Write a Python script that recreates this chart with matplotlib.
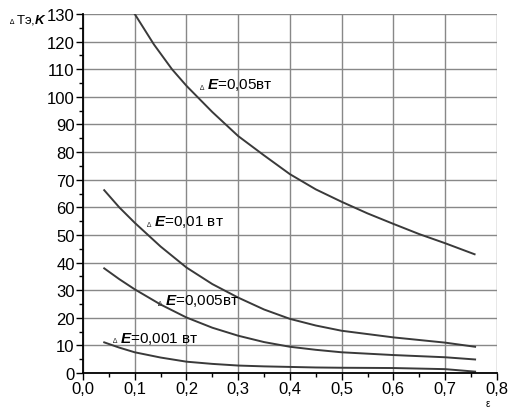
import matplotlib
matplotlib.use("Agg")
import matplotlib.pyplot as plt
import numpy as np

plt.rcParams['font.family'] = ['Liberation Sans', 'DejaVu Sans']
plt.rcParams['mathtext.fontset'] = 'custom'
plt.rcParams['mathtext.bf'] = 'Liberation Sans:italic:bold'
plt.rcParams['mathtext.rm'] = 'Liberation Sans'

# Data
eps_05 = [0.1, 0.137, 0.172, 0.2, 0.25, 0.3, 0.35, 0.4, 0.45, 0.5, 0.55, 0.6, 0.65, 0.7, 0.757]
dt_05 = [130, 119, 110, 104, 94.5, 85.8, 78.8, 72, 66.5, 62, 57.8, 54, 50.3, 47, 43]

eps = [0.041, 0.07, 0.1, 0.15, 0.2, 0.25, 0.3, 0.35, 0.4, 0.45, 0.5, 0.6, 0.7, 0.758]
dt_01 = [66.2, 60.0, 54.4, 45.8, 38.2, 32.2, 27.3, 23.0, 19.6, 17.2, 15.3, 12.9, 11.0, 9.5]
dt_005 = [37.9, 34.0, 30.3, 24.8, 20.1, 16.4, 13.5, 11.2, 9.5, 8.4, 7.5, 6.5, 5.7, 4.9]
dt_001 = [11.1, 9.2, 7.5, 5.6, 4.1, 3.3, 2.7, 2.4, 2.2, 2.0, 1.9, 1.8, 1.4, 0.5]

labels = ["=0,05вт", "=0,01 вт", "=0,005вт", "=0,001 вт"]
label_pos = [(0.226, 104.5), (0.124, 55), (0.145, 26.5), (0.058, 12.8)]

xticks = np.arange(0, 0.81, 0.1)
xtick_labels = ["0,0", "0,1", "0,2", "0,3", "0,4", "0,5", "0,6", "0,7", "0,8"]
yticks = np.arange(0, 131, 10)

fig = plt.figure(figsize=(5.08, 4.10), dpi=100)
ax = fig.add_axes([0.1634, 0.0878, 0.8146, 0.8756])

line_kw = dict(color='#3a3a3a', lw=1.4)
ax.plot(eps_05, dt_05, **line_kw)
ax.plot(eps, dt_01, **line_kw)
ax.plot(eps, dt_005, **line_kw)
ax.plot(eps, dt_001, **line_kw)

for txt, (x, y) in zip(labels, label_pos):
    ax.text(x, y - 1.2, "\u2206", fontsize=5, va='center', ha='left', color='#333333')
    ax.annotate("$\\mathbf{E}$" + txt, (x, y), xytext=(5, 0), textcoords='offset points',
                fontsize=11, va='center', ha='left')

ax.set_xlim(0, 0.8)
ax.set_ylim(0, 130)
ax.set_xticks(xticks)
ax.set_xticklabels(xtick_labels)
ax.set_yticks(yticks)
ax.set_xticks(np.arange(0.05, 0.8, 0.1), minor=True)
ax.set_yticks(np.arange(5, 130, 10), minor=True)
ax.tick_params(which='major', direction='out', length=5, width=1, labelsize=12, pad=1)
ax.tick_params(which='minor', direction='out', length=3, width=1)

ax.grid(True, which='major', color='#888888', lw=1)
ax.set_axisbelow(True)
for side in ['top', 'right']:
    ax.spines[side].set_visible(False)
for side in ['left', 'bottom']:
    ax.spines[side].set_linewidth(1.3)

# axis titles
fig.text(10 / 508, 1 - 23 / 410, "\u2206", fontsize=5, va='center')
fig.text(16 / 508, 1 - 20 / 410, "Tэ,$\\mathbf{K}$", fontsize=9.5, va='center')
fig.text(486 / 508, 1 - 404 / 410, "\u03b5", fontsize=7, va='center')

fig.savefig("out.png", dpi=100)
